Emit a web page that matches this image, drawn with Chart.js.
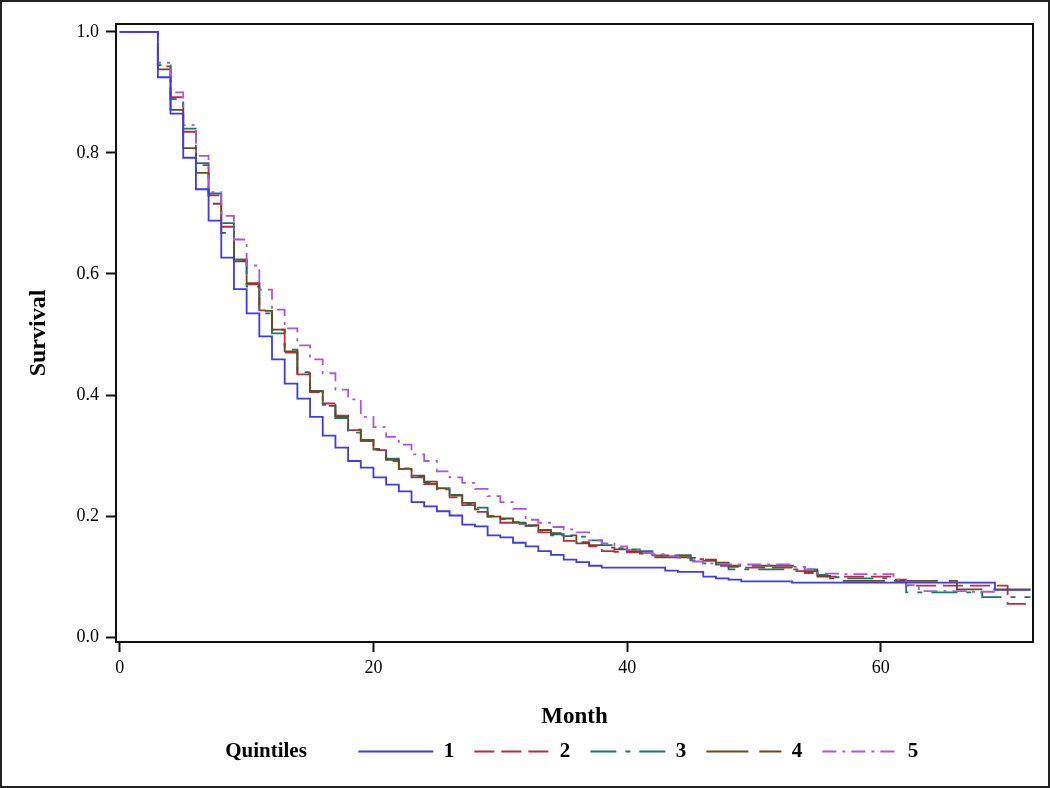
<!DOCTYPE html>
<html>
<head>
<meta charset="utf-8">
<script src="https://cdn.jsdelivr.net/npm/chart.js@4.4.1/dist/chart.umd.min.js"></script>
<style>
  html, body { margin: 0; padding: 0; background: #fff; }
  #frame { width: 1050px; height: 788px; box-sizing: border-box; border: 2px solid #222; }
  canvas { display: block; }
</style>
</head>
<body>
<div id="frame"><canvas id="km" width="1046" height="784"></canvas></div>
<script>
// Kaplan-Meier survival by quintile.
// Each value is S(t) holding from that month until the next one.
const months = [
    0, 1, 2, 3, 4, 5, 6, 7, 8, 9,
    10, 11, 12, 13, 14, 15, 16, 17, 18, 19,
    20, 21, 22, 23, 24, 25, 26, 27, 28, 29,
    30, 31, 32, 33, 34, 35, 36, 37, 38, 39,
    40, 41, 42, 43, 44, 45, 46, 47, 48, 49,
    50, 51, 52, 53, 54, 55, 56, 57, 58, 59,
    60, 61, 62, 63, 64, 65, 66, 67, 68, 69,
    70, 71, 71.8
];

const q1 = [
    1.000, 1.000, 1.000, 0.925, 0.865, 0.792, 0.740, 0.688, 0.627, 0.575,
    0.535, 0.497, 0.459, 0.419, 0.394, 0.364, 0.333, 0.313, 0.291, 0.280,
    0.264, 0.252, 0.241, 0.223, 0.216, 0.208, 0.201, 0.186, 0.183, 0.168,
    0.165, 0.156, 0.150, 0.142, 0.136, 0.128, 0.124, 0.118, 0.115, 0.115,
    0.115, 0.115, 0.115, 0.110, 0.108, 0.108, 0.100, 0.097, 0.095, 0.092,
    0.092, 0.092, 0.092, 0.090, 0.090, 0.090, 0.090, 0.090, 0.090, 0.090,
    0.090, 0.090, 0.090, 0.090, 0.090, 0.090, 0.090, 0.090, 0.090, 0.078,
    0.078, 0.078, 0.078
];

const q2 = [
    1.000, 1.000, 1.000, 0.943, 0.892, 0.835, 0.780, 0.730, 0.678, 0.622,
    0.583, 0.540, 0.508, 0.470, 0.434, 0.405, 0.386, 0.366, 0.342, 0.324,
    0.309, 0.291, 0.278, 0.264, 0.253, 0.244, 0.231, 0.218, 0.207, 0.199,
    0.189, 0.187, 0.184, 0.173, 0.168, 0.159, 0.157, 0.150, 0.142, 0.141,
    0.140, 0.138, 0.135, 0.135, 0.135, 0.129, 0.126, 0.118, 0.116, 0.115,
    0.115, 0.115, 0.115, 0.109, 0.106, 0.101, 0.100, 0.100, 0.100, 0.100,
    0.100, 0.095, 0.085, 0.085, 0.085, 0.085, 0.085, 0.085, 0.085, 0.085,
    0.055, 0.055, 0.055
];

const q3 = [
    1.000, 1.000, 1.000, 0.945, 0.889, 0.840, 0.783, 0.733, 0.684, 0.624,
    0.579, 0.535, 0.502, 0.475, 0.438, 0.407, 0.384, 0.362, 0.338, 0.326,
    0.311, 0.295, 0.279, 0.267, 0.256, 0.246, 0.235, 0.220, 0.214, 0.200,
    0.195, 0.189, 0.184, 0.176, 0.170, 0.167, 0.166, 0.160, 0.152, 0.147,
    0.145, 0.142, 0.135, 0.135, 0.135, 0.127, 0.122, 0.120, 0.112, 0.112,
    0.112, 0.112, 0.112, 0.112, 0.112, 0.103, 0.099, 0.097, 0.097, 0.097,
    0.097, 0.093, 0.074, 0.074, 0.074, 0.074, 0.074, 0.074, 0.066, 0.066,
    0.066, 0.066, 0.066
];

const q4 = [
    1.000, 1.000, 1.000, 0.938, 0.871, 0.808, 0.767, 0.716, 0.668, 0.621,
    0.585, 0.539, 0.508, 0.472, 0.436, 0.406, 0.382, 0.364, 0.343, 0.326,
    0.310, 0.293, 0.278, 0.266, 0.257, 0.246, 0.234, 0.222, 0.211, 0.199,
    0.196, 0.190, 0.185, 0.177, 0.172, 0.168, 0.155, 0.152, 0.148, 0.145,
    0.142, 0.140, 0.132, 0.132, 0.132, 0.131, 0.128, 0.123, 0.118, 0.118,
    0.118, 0.118, 0.118, 0.118, 0.109, 0.100, 0.097, 0.093, 0.093, 0.093,
    0.093, 0.093, 0.093, 0.093, 0.093, 0.093, 0.079, 0.079, 0.079, 0.079,
    0.079, 0.079, 0.079
];

const q5 = [
    1.000, 1.000, 1.000, 0.949, 0.900, 0.846, 0.795, 0.735, 0.696, 0.657,
    0.614, 0.574, 0.541, 0.510, 0.482, 0.459, 0.436, 0.409, 0.393, 0.364,
    0.347, 0.331, 0.318, 0.302, 0.291, 0.274, 0.264, 0.255, 0.245, 0.233,
    0.223, 0.212, 0.194, 0.189, 0.182, 0.178, 0.173, 0.160, 0.155, 0.150,
    0.144, 0.139, 0.137, 0.134, 0.131, 0.125, 0.122, 0.121, 0.120, 0.120,
    0.120, 0.120, 0.120, 0.116, 0.112, 0.105, 0.105, 0.104, 0.104, 0.104,
    0.104, 0.095, 0.086, 0.076, 0.076, 0.076, 0.076, 0.075, 0.075, 0.075,
    null, null, null
];

const quintileLabels = ['1', '2', '3', '4', '5'];
const xTicks = [0, 20, 40, 60];
const yTicks = [0, 0.2, 0.4, 0.6, 0.8, 1.0];

// colour, dash pattern and draw order per quintile (lower order = on top)
const styles = [
    { color: '#3a3af2', dash: [],              order: 0 },
    { color: '#c4283f', dash: [20, 7],         order: 4 },
    { color: '#17776b', dash: [26, 9, 5, 9],   order: 3 },
    { color: '#6b4a1f', dash: [42, 11],        order: 2 },
    { color: '#a955e8', dash: [14, 6, 3, 6],   order: 1 }
];

const curves = [q1, q2, q3, q4, q5];

Chart.defaults.font.family = '"Liberation Serif", "Times New Roman", serif';
Chart.defaults.color = '#000';

const plotFrame = {
    id: 'plotFrame',
    afterDatasetsDraw(chart) {
        const { ctx, chartArea: a } = chart;
        ctx.save();
        ctx.strokeStyle = '#111';
        ctx.lineWidth = 2;
        ctx.strokeRect(a.left, a.top, a.right - a.left, a.bottom - a.top);
        ctx.restore();
    }
};

const datasets = curves.map((values, i) => ({
    label: quintileLabels[i],
    data: months.map((m, j) => ({ x: m, y: values[j] })),
    stepped: 'before',
    borderColor: styles[i].color,
    borderDash: styles[i].dash,
    borderWidth: 1.8,
    pointRadius: 0,
    fill: false,
    order: styles[i].order
}));

new Chart(document.getElementById('km'), {
    type: 'line',
    data: { datasets },
    plugins: [plotFrame],
    options: {
        responsive: false,
        animation: false,
        devicePixelRatio: 1,
        layout: { padding: { left: 2, right: 15, top: 22, bottom: 14 } },
        scales: {
            x: {
                type: 'linear',
                min: -0.3,
                max: 72,
                afterBuildTicks: (scale) => { scale.ticks = xTicks.map(v => ({ value: v })); },
                afterFit: (scale) => { scale.height = 79; },
                grid: { drawOnChartArea: false, drawTicks: true, tickLength: 10, tickWidth: 2, tickColor: '#111' },
                border: { display: false },
                ticks: { padding: 5, font: { size: 18 }, color: '#000' },
                title: {
                    display: true,
                    text: 'Month',
                    font: { size: 23, weight: 'bold' },
                    padding: { top: 0, bottom: -10 }
                }
            },
            y: {
                min: -0.008,
                max: 1.013,
                afterBuildTicks: (scale) => { scale.ticks = yTicks.map(v => ({ value: v })); },
                afterFit: (scale) => { scale.width = 112; },
                grid: { drawOnChartArea: false, drawTicks: true, tickLength: 10, tickWidth: 2, tickColor: '#111' },
                border: { display: false },
                ticks: { padding: 7, font: { size: 18 }, color: '#000', callback: (v) => v.toFixed(1) },
                title: {
                    display: true,
                    text: 'Survival',
                    font: { size: 24, weight: 'bold' },
                    padding: { top: 20, bottom: 0 }
                }
            }
        },
        plugins: {
            tooltip: { enabled: false },
            legend: {
                position: 'bottom',
                labels: {
                    usePointStyle: true,
                    pointStyle: 'line',
                    pointStyleWidth: 75,
                    padding: 20,
                    color: '#000',
                    font: { size: 21, weight: 'bold' },
                    generateLabels: () => [
                        {
                            text: '\u00a0\u00a0\u00a0\u00a0Quintiles\u00a0\u00a0\u00a0\u00a0\u00a0\u00a0',
                            fillStyle: 'rgba(0,0,0,0)',
                            strokeStyle: 'rgba(0,0,0,0)',
                            lineWidth: 0,
                            pointStyle: 'line',
                            hidden: false,
                            datasetIndex: -1
                        },
                        ...quintileLabels.map((label, i) => ({
                            text: label,
                            fillStyle: styles[i].color,
                            strokeStyle: styles[i].color,
                            lineWidth: 2,
                            lineDash: styles[i].dash,
                            pointStyle: 'line',
                            hidden: false,
                            datasetIndex: i
                        }))
                    ]
                }
            }
        }
    }
});
</script>
</body>
</html>
